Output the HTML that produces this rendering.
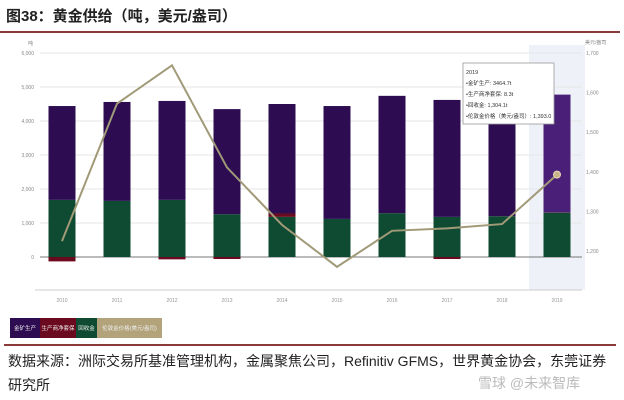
<!DOCTYPE html>
<html><head><meta charset="utf-8"><style>
body{margin:0;width:624px;height:400px;background:#fff;overflow:hidden;font-family:"Liberation Sans","Noto Sans CJK SC",sans-serif;}
</style></head><body>
<div style="position:absolute;left:6px;top:5px;font-size:15px;font-weight:bold;color:#222;font-family:'Liberation Sans','Noto Sans CJK SC',sans-serif;">图38：黄金供给（吨，美元/盎司）</div>
<div style="position:absolute;left:0;top:31px;width:620px;height:2px;background:#8b3a3a;"></div>
<svg id="chart" width="624" height="400" style="position:absolute;left:0;top:0" font-family="Liberation Sans, Noto Sans CJK SC, sans-serif"></svg>
<div style="position:absolute;left:4px;top:344px;width:612px;height:2px;background:#8b3a3a;"></div>
<div style="position:absolute;left:8px;top:349px;font-size:14px;line-height:24px;color:#222;width:610px;">数据来源：洲际交易所基准管理机构，金属聚焦公司，Refinitiv GFMS，世界黄金协会，东莞证券<br>研究所</div>
<div style="position:absolute;left:478px;top:373px;font-size:14px;color:#bbb;">雪球 @未来智库</div>
<script>
const years=['2010','2011','2012','2013','2014','2015','2016','2017','2018','2019'];
const mine=[2760,2910,2910,3090,3220,3320,3450,3440,3400,3464];
const hedge=[-100,0,-40,-30,100,0,0,-30,0,8];
const recycle=[1680,1650,1680,1260,1180,1120,1290,1180,1200,1304];
const price=[1225,1572,1669,1411,1266,1160,1251,1257,1268,1393];
const leftTicks=[0,1000,2000,3000,4000,5000,6000];
const rightTicks=[1200,1300,1400,1500,1600,1700];
const svg=document.getElementById('chart');const NS='http://www.w3.org/2000/svg';
function mk(t,a,p){const e=document.createElementNS(NS,t);for(const k in a)e.setAttribute(k,a[k]);(p||svg).appendChild(e);return e;}
const yL=v=>257-v*0.034;
const yR=v=>251-(v-1200)*0.396;
const xC=i=>62+i*55;
const bw=27;
// highlight
const hl=mk('rect',{x:xC(9)-28,y:45,width:56,height:245,fill:'#eef1f8'});


leftTicks.forEach(v=>{
 const g=mk('line',{x1:40,x2:582,y1:yL(v),y2:yL(v),stroke:v==0?'#777':'#e6e6e6','stroke-width':1});
 
 
 const t=mk('text',{x:34,y:yL(v)+2,'font-size':5,fill:'#888','text-anchor':'end'});t.textContent=v.toLocaleString('en-US');
 
 
});
rightTicks.forEach(v=>{
 const t=mk('text',{x:586,y:yR(v)+2,'font-size':5,fill:'#888'});t.textContent=v.toLocaleString('en-US');
 
 
});
let u=mk('text',{x:28,y:45,'font-size':5,fill:'#888'});u.textContent='吨';


u=mk('text',{x:585,y:44,'font-size':5,fill:'#888'});u.textContent='美元/盎司';


const ax=mk('line',{x1:35,x2:582,y1:290,y2:290,stroke:'#ccc'});


years.forEach((y,i)=>{
 const x=xC(i)-bw/2;
 let neg=0;
 let base=0;
 if(hedge[i]<0){const r=mk('rect',{x:x,y:yL(0),width:bw,height:-hedge[i]*0.034+1,fill:'#6b0a1e'});}
 let r=mk('rect',{x:x,y:yL(recycle[i]),width:bw,height:recycle[i]*0.034,fill:'#0f4a32'});
 
 
 base=recycle[i];
 if(hedge[i]>0){r=mk('rect',{x:x,y:yL(base+hedge[i]),width:bw,height:hedge[i]*0.034,fill:'#6b0a1e'});base+=hedge[i];}
 r=mk('rect',{x:x,y:yL(base+mine[i]),width:bw,height:mine[i]*0.034,fill:i==9?'#4a1f78':'#2d0c52'});
 
 
 const t=mk('text',{x:xC(i),y:302,'font-size':5,fill:'#999','text-anchor':'middle'});t.textContent=y;
 
 
});
const pts=price.map((p,i)=>xC(i)+','+yR(p)).join(' ');
const pl=mk('polyline',{points:pts,fill:'none',stroke:'#a09a78','stroke-width':2});


const dot=mk('circle',{cx:xC(9),cy:yR(price[9]),r:3.5,fill:'#c9b48a',stroke:'#e8d8b8'});


// tooltip
const tg=mk('g',{});


mk('rect',{x:463,y:63,width:91,height:61,fill:'#fff',stroke:'#999','stroke-width':0.8},tg);
['2019','•金矿生产: '+mine[9]+'.7t','•生产商净套保: 8.3t','•回收金: 1,304.1t','•伦敦金价格（美元/盎司）: 1,393.0'].forEach((s,k)=>{
 const t=mk('text',{x:466,y:74+k*11,'font-size':5.5,fill:'#333'},tg);t.textContent=s;
});
// legend
const lg=[['金矿生产','#2d0c52',10,30],['生产商净套保','#6b0a1e',40,36],['回收金','#0f4a32',76,21],['伦敦金价格(美元/盎司)','#b3a37a',97,65]];
lg.forEach(l=>{
 const g=mk('g',{});
 
 
 mk('rect',{x:l[2],y:318,width:l[3],height:20,fill:l[1]},g);
 const t=mk('text',{x:l[2]+l[3]/2,y:330,'font-size':5.5,fill:'#eee','text-anchor':'middle'},g);t.textContent=l[0];
});
</script>
</body></html>
